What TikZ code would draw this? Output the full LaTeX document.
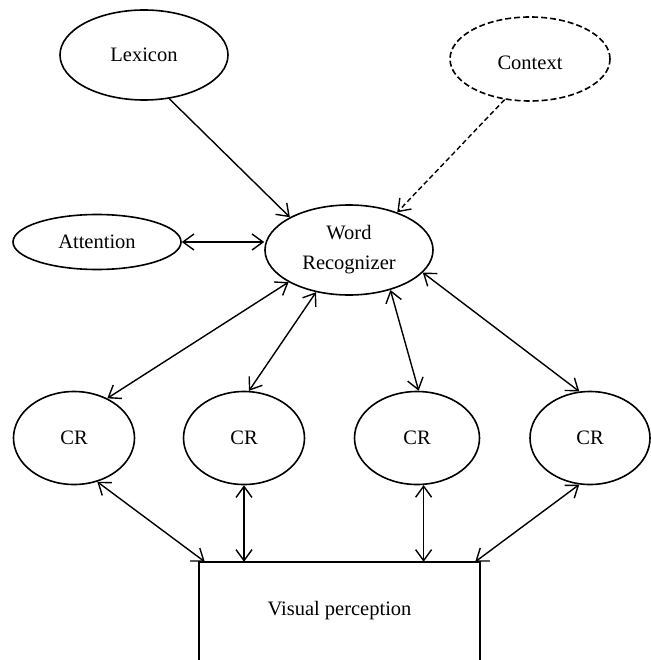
\documentclass[tikz,border=0pt]{standalone}
\usepackage{fontspec}
\setmainfont{Liberation Serif}
\usetikzlibrary{shapes.geometric,arrows.meta}
\begin{document}
\begin{tikzpicture}[x=1pt,y=-1pt,
  every node/.style={font=\fontsize{20.5}{30}\selectfont},
  oval/.style={ellipse,draw,line width=1.6pt,inner sep=0pt},
  conn/.style={line width=1.4pt},
  >={Straight Barb[length=11pt,width=16pt,line width=1.4pt]}]
\useasboundingbox (0,0) rectangle (650,660);
% nodes
\node[oval,minimum width=168pt,minimum height=90pt] (lex) at (144,55) {Lexicon};
\node[oval,dashed,dash pattern=on 6pt off 3pt,minimum width=160pt,minimum height=84pt,text height=22pt,text depth=0pt] (ctx) at (530,59) {Context};
\node[oval,minimum width=168pt,minimum height=55pt] (att) at (97,242) {Attention};
\node[oval,align=center,minimum width=168pt,minimum height=90pt] (wr) at (349,250) {Word\\Recognizer};
\node[oval,minimum width=121pt,minimum height=93pt] (cr1) at (74,438) {CR};
\node[oval,minimum width=121pt,minimum height=93pt] (cr2) at (244,438) {CR};
\node[oval,minimum width=125pt,minimum height=93pt] (cr3) at (417,438) {CR};
\node[oval,minimum width=120pt,minimum height=93pt] (cr4) at (590,438) {CR};
\node[minimum width=281pt,minimum height=98pt,inner sep=0pt] (vp) at (339.5,611) {Visual perception};
\draw[line width=1.6pt] (vp.south west) -- (vp.north west) -- (vp.north east) -- (vp.south east);
% connectors
\draw[conn,->] (lex.-60) -- (wr.151.5);
\draw[conn,->,dashed,dash pattern=on 5pt off 3pt] (ctx.238) -- (wr.38);
\draw[conn,<->] (att.east) -- (att.east -| wr.west);
\draw[conn,<->] (wr.208.5) -- (cr1.50);
\draw[conn,<->] (wr.232.7) -- (cr2.84);
\draw[conn,<->] (wr.-44) -- (cr3.88);
\draw[conn,<->] (wr.-17) -- (cr4.103.5);
\draw[conn,<->] (cr1.-62) -- ([xshift=6pt]vp.north west);
\draw[conn,<->] (cr2.south) -- (cr2.south |- vp.north);
\draw[conn,<->] (cr3.-82) -- (cr3.-82 |- vp.north);
\draw[conn,<->] (cr4.-103) -- ([xshift=-5pt]vp.north east);
\end{tikzpicture}
\end{document}
